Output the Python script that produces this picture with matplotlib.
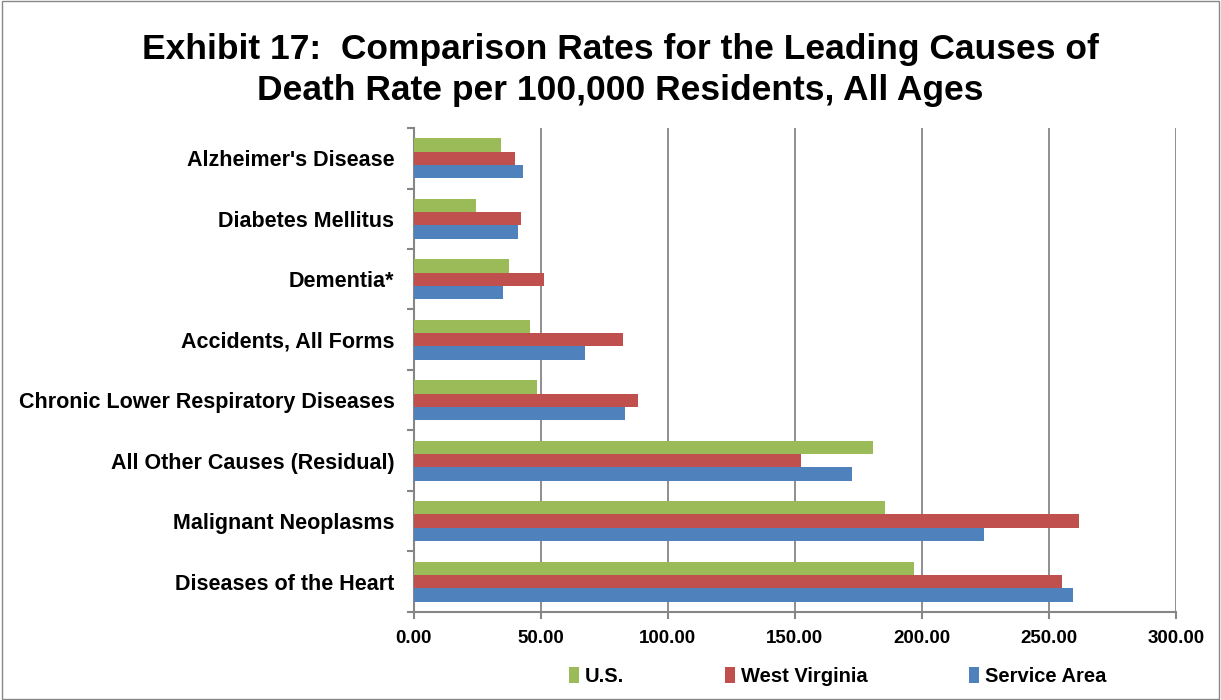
import matplotlib
matplotlib.use("Agg")
import matplotlib.pyplot as plt
from matplotlib.patches import Rectangle
import numpy as np

plt.rcParams['font.family'] = ['Liberation Sans', 'DejaVu Sans']

# data (bottom to top, as drawn)
causes = ["Diseases of the Heart", "Malignant Neoplasms", "All Other Causes (Residual)",
          "Chronic Lower Respiratory Diseases", "Accidents, All Forms", "Dementia*",
          "Diabetes Mellitus", "Alzheimer's Disease"]
us = [197.0, 185.5, 180.9, 48.3, 45.9, 37.6, 24.4, 34.1]
west_virginia = [255.3, 261.9, 152.6, 88.2, 82.4, 51.3, 42.2, 39.8]
service_area = [259.5, 224.3, 172.3, 83.0, 67.2, 35.2, 41.0, 42.8]
xticks = [0, 50, 100, 150, 200, 250, 300]

GREEN = "#9BBB59"
RED = "#C0504D"
BLUE = "#4F81BD"
GRID = "#868686"

fig = plt.figure(figsize=(12.21, 7.0), dpi=100)
ax = fig.add_axes([0.339, 0.126, 0.624, 0.691])

y = np.arange(len(causes))
h = 0.22
ax.barh(y + h, us, height=h, color=GREEN, label="U.S.", zorder=3)
ax.barh(y, west_virginia, height=h, color=RED, label="West Virginia", zorder=3)
ax.barh(y - h, service_area, height=h, color=BLUE, label="Service Area", zorder=3)

ax.set_xlim(0, 300)
ax.set_ylim(-0.5, len(causes) - 0.5)
ax.set_xticks(xticks)
ax.set_xticklabels([f"{v:.2f}" for v in xticks], fontsize=13.5, fontweight="bold")
ax.set_yticks(y)
ax.set_yticklabels(causes, fontsize=15.5, fontweight="bold")
ax.set_yticks(np.arange(-0.5, len(causes), 1.0), minor=True)
ax.tick_params(axis="y", which="major", length=0, pad=14)
ax.tick_params(axis="y", which="minor", length=5, color=GRID, width=1.5)
ax.tick_params(axis="x", length=5, color=GRID, width=1.5, pad=8)

ax.grid(axis="x", color=GRID, linewidth=1.3, zorder=0)
for s in ["top", "right"]:
    ax.spines[s].set_visible(False)
for s in ["left", "bottom"]:
    ax.spines[s].set_color(GRID)
    ax.spines[s].set_linewidth(1.5)

fig.text(0.508, 0.953, "Exhibit 17:  Comparison Rates for the Leading Causes of\nDeath Rate per 100,000 Residents, All Ages",
         ha="center", va="top", fontsize=25.5, fontweight="bold", linespacing=1.3)

handles, labels = ax.get_legend_handles_labels()
fig.legend(handles, labels, loc="center", bbox_to_anchor=(0.686, 0.034), ncol=3, frameon=False,
           prop={"size": 14.5, "weight": "bold"}, handlelength=0.5, handleheight=0.9,
           handletextpad=0.3, columnspacing=5.0)

fig.patches.append(Rectangle((0.002, 0.002), 0.996, 0.996, transform=fig.transFigure,
                             fill=False, edgecolor="#888888", linewidth=1))

fig.savefig("out.png", dpi=100)
